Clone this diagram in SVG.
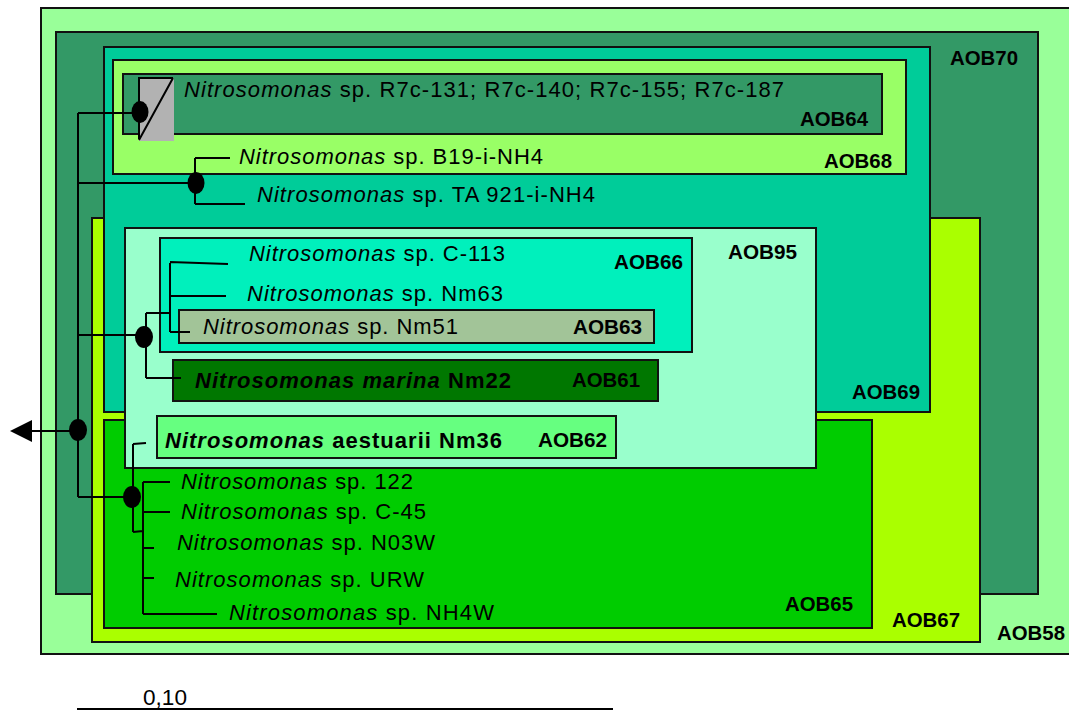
<svg xmlns="http://www.w3.org/2000/svg" width="1069" height="711" viewBox="0 0 1069 711">
<style>
.box{stroke:#111;stroke-width:2}
.lbl{font-family:"Liberation Sans",Arial,sans-serif;font-weight:bold;font-size:20.5px;fill:#000}
.sp{font-family:"Liberation Sans",Arial,sans-serif;font-size:22px;fill:#000}
.b{font-weight:bold}
.i{font-style:italic}
.ln{stroke:#000;stroke-width:2;fill:none}
.dot{fill:#000}
</style>
<rect width="1069" height="711" fill="#fff"/>
<g id="AOB58"><rect class="box" x="41" y="8" width="1040" height="646" fill="#99FF99"/><text class="lbl" x="997" y="640" textLength="68" lengthAdjust="spacingAndGlyphs">AOB58</text></g>
<g id="AOB70"><rect class="box" x="56" y="32" width="982" height="562" fill="#339966"/><text class="lbl" x="950" y="65" textLength="68" lengthAdjust="spacingAndGlyphs">AOB70</text></g>
<g id="AOB67"><rect class="box" x="92" y="218" width="888" height="424" fill="#AAFF00"/><text class="lbl" x="892" y="627" textLength="68" lengthAdjust="spacingAndGlyphs">AOB67</text></g>
<g id="AOB69"><rect class="box" x="104" y="47" width="826" height="365" fill="#00CC99"/><text class="lbl" x="852" y="399" textLength="68" lengthAdjust="spacingAndGlyphs">AOB69</text></g>
<g id="AOB68"><rect class="box" x="113" y="60" width="793" height="114" fill="#99FF66"/><text class="lbl" x="824" y="168" textLength="68" lengthAdjust="spacingAndGlyphs">AOB68</text></g>
<g id="AOB64"><rect class="box" x="123" y="74" width="759" height="60" fill="#339966"/><text class="lbl" x="800" y="126" textLength="68" lengthAdjust="spacingAndGlyphs">AOB64</text></g>
<g id="collapsed"><rect x="139" y="78" width="35" height="63" fill="#B2B2B2"/><path class="ln" d="M139,139 L139,78 L173,78 M173,78 L139,140"/></g>
<g id="AOB65"><rect class="box" x="104" y="420" width="768" height="208" fill="#00CC00"/><text class="lbl" x="785" y="611" textLength="68" lengthAdjust="spacingAndGlyphs">AOB65</text></g>
<g id="AOB95"><rect class="box" x="125" y="228" width="691" height="240" fill="#99FFCC"/><text class="lbl" x="728" y="259" textLength="69" lengthAdjust="spacingAndGlyphs">AOB95</text></g>
<g id="AOB66"><rect class="box" x="160" y="238" width="532" height="114" fill="#00F0BC"/><text class="lbl" x="614" y="269" textLength="69" lengthAdjust="spacingAndGlyphs">AOB66</text></g>
<g id="AOB63"><rect class="box" x="179" y="310" width="475" height="33" fill="#A2C498"/><text class="lbl" x="573" y="334" textLength="69" lengthAdjust="spacingAndGlyphs">AOB63</text></g>
<g id="AOB61"><rect class="box" x="173" y="360" width="485" height="41" fill="#007700"/><text class="lbl" x="572" y="387" textLength="68" lengthAdjust="spacingAndGlyphs">AOB61</text></g>
<g id="AOB62"><rect class="box" x="157" y="416" width="459" height="42" fill="#66FF80"/><text class="lbl" x="538" y="447" textLength="69" lengthAdjust="spacingAndGlyphs">AOB62</text></g>

<g id="taxa">
<text class="sp" x="184" y="97" textLength="600" lengthAdjust="spacing"><tspan class="i">Nitrosomonas</tspan> sp. R7c-131; R7c-140; R7c-155; R7c-187</text>
<text class="sp" x="239" y="164" textLength="304" lengthAdjust="spacing"><tspan class="i">Nitrosomonas</tspan> sp. B19-i-NH4</text>
<text class="sp" x="257" y="202" textLength="338" lengthAdjust="spacing"><tspan class="i">Nitrosomonas</tspan> sp. TA 921-i-NH4</text>
<text class="sp" x="249" y="261" textLength="256" lengthAdjust="spacing"><tspan class="i">Nitrosomonas</tspan> sp. C-113</text>
<text class="sp" x="247" y="301" textLength="256" lengthAdjust="spacing"><tspan class="i">Nitrosomonas</tspan> sp. Nm63</text>
<text class="sp" x="203" y="334" textLength="255" lengthAdjust="spacing"><tspan class="i">Nitrosomonas</tspan> sp. Nm51</text>
<text class="sp b" x="195" y="388" textLength="316" lengthAdjust="spacing"><tspan class="i">Nitrosomonas marina</tspan> Nm22</text>
<text class="sp b" x="165" y="448" textLength="337" lengthAdjust="spacing"><tspan class="i">Nitrosomonas</tspan> aestuarii Nm36</text>
<text class="sp" x="181" y="489" textLength="232" lengthAdjust="spacing"><tspan class="i">Nitrosomonas</tspan> sp. 122</text>
<text class="sp" x="181" y="519" textLength="245" lengthAdjust="spacing"><tspan class="i">Nitrosomonas</tspan> sp. C-45</text>
<text class="sp" x="177" y="550" textLength="258" lengthAdjust="spacing"><tspan class="i">Nitrosomonas</tspan> sp. N03W</text>
<text class="sp" x="175" y="587" textLength="249" lengthAdjust="spacing"><tspan class="i">Nitrosomonas</tspan> sp. URW</text>
<text class="sp" x="229" y="620" textLength="265" lengthAdjust="spacing"><tspan class="i">Nitrosomonas</tspan> sp. NH4W</text>
</g>

<g id="connectors">
<path class="ln" d="M78,113 L78,497"/>
<path class="ln" d="M78,113 L140,113"/>
<path class="ln" d="M78,183 L196,183 M195,158 L195,204 M195,158 L230,158 M195,204 L245,204"/>
<path class="ln" d="M78,335 L144,335 M146,313 L146,378 M146,313 L170,313 M170,263 L170,332 M170,262 L228,264 M170,296 L226,296 M170,332 L190,332 M146,378 L181,378"/>
<path class="ln" d="M78,431 L30,431"/>
<polygon points="10,431 32,420 32,442" fill="#000"/>
<path class="ln" d="M78,497 L132,497 M133,444 L133,532 M133,444 L146,443 M133,532 L143,531 M143,482 L143,614 M143,482 L170,482 M143,512 L170,512 M143,548 L154,548 M143,578 L154,578 M143,614 L217,614"/>
<ellipse class="dot" cx="140" cy="112" rx="8.5" ry="11"/>
<ellipse class="dot" cx="196" cy="183" rx="8.5" ry="11"/>
<ellipse class="dot" cx="144" cy="337" rx="9" ry="11"/>
<ellipse class="dot" cx="78" cy="430" rx="9" ry="11"/>
<ellipse class="dot" cx="132" cy="497" rx="9" ry="11"/>
</g>

<g id="scale">
<path class="ln" d="M77,709 L613,709"/>
<text class="sp" x="143" y="705" font-size="23" textLength="44" lengthAdjust="spacingAndGlyphs">0,10</text>
</g>
</svg>
